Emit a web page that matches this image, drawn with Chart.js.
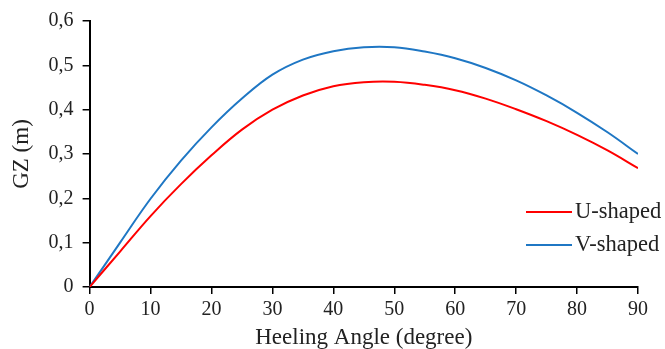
<!DOCTYPE html>
<html>
<head>
<meta charset="utf-8">
<script src="https://cdn.jsdelivr.net/npm/chart.js@4.4.0/dist/chart.umd.min.js"></script>
<style>
  html, body { margin: 0; padding: 0; background: #fff; }
  #wrap { width: 665px; height: 349px; }
</style>
</head>
<body>
<div id="wrap"><canvas id="chartContainer"></canvas></div>
<script>
// heeling angle (degree)
const heelingAngles = [0, 5, 10, 15, 20, 25, 30, 35, 40, 45, 50, 55, 60, 65, 70, 75, 80, 85, 90];
// GZ (m)
const uShaped = [0, 0.080, 0.160, 0.232, 0.297, 0.355, 0.400, 0.432, 0.453, 0.462, 0.463, 0.456, 0.444, 0.425, 0.401, 0.374, 0.343, 0.308, 0.268];
const vShaped = [0, 0.100, 0.199, 0.285, 0.360, 0.425, 0.479, 0.513, 0.532, 0.541, 0.541, 0.531, 0.516, 0.494, 0.466, 0.432, 0.393, 0.349, 0.300];
const seriesLabels = ['U-shaped', 'V-shaped'];
const seriesColors = ['#ff0000', '#1f77c4'];

const FONT = "'Liberation Serif', 'Times New Roman', serif";

function toPoints(values) {
    return values.map((y, i) => ({ x: heelingAngles[i], y: y }));
}

/**
 * Draws the legend inside the plot area, like the original figure.
 */
const insideLegend = {
    id: 'insideLegend',
    afterDraw(chart) {
        const ctx = chart.ctx;
        const area = chart.chartArea;
        const x0 = area.right - 112;
        let y = area.top + 191;
        ctx.save();
        ctx.font = '22.5px ' + FONT;
        ctx.textBaseline = 'middle';
        chart.data.datasets.forEach(ds => {
            ctx.strokeStyle = ds.borderColor;
            ctx.lineWidth = 2;
            ctx.beginPath();
            ctx.moveTo(x0, y);
            ctx.lineTo(x0 + 46, y);
            ctx.stroke();
            ctx.fillStyle = '#222';
            ctx.fillText(ds.label, x0 + 49, y);
            y += 33;
        });
        ctx.restore();
    }
};

function drawChart() {
    const ctx = document.getElementById('chartContainer');
    window.myChart = new Chart(ctx, {
        type: 'line',
        data: {
            datasets: [{
                label: seriesLabels[0],
                data: toPoints(uShaped),
                borderColor: seriesColors[0],
                borderWidth: 2,
                pointRadius: 0,
                fill: false,
                tension: 0.4
            }, {
                label: seriesLabels[1],
                data: toPoints(vShaped),
                borderColor: seriesColors[1],
                borderWidth: 2,
                pointRadius: 0,
                fill: false,
                tension: 0.4
            }]
        },
        options: {
            responsive: true,
            maintainAspectRatio: false,
            animation: false,
            layout: { padding: { left: 8, right: 27, top: 6, bottom: 0 } },
            scales: {
                x: {
                    type: 'linear',
                    min: 0,
                    max: 90,
                    ticks: { stepSize: 10, color: '#222', font: { family: FONT, size: 20 }, padding: 4 },
                    grid: { drawOnChartArea: false, color: '#000', lineWidth: 1.5, tickLength: 7 },
                    border: { color: '#000', width: 2 },
                    title: { display: true, text: 'Heeling Angle (degree)', color: '#222', font: { family: FONT, size: 23, lineHeight: 1 }, padding: { top: 0, bottom: 0 } }
                },
                y: {
                    min: 0,
                    max: 0.6,
                    ticks: {
                        stepSize: 0.05,
                        color: '#222',
                        font: { family: FONT, size: 20 },
                        padding: 9,
                        callback: v => {
                            const k = Math.round(v * 100);
                            if (k % 10 !== 0) return '';
                            return k === 0 ? '0' : (k / 100).toFixed(1).replace('.', ',');
                        }
                    },
                    grid: { drawOnChartArea: false, color: '#000', lineWidth: 1.5, tickLength: 7 },
                    border: { color: '#000', width: 2 },
                    title: { display: true, text: 'GZ (m)', color: '#222', font: { family: FONT, size: 23 }, padding: { top: 0, bottom: 4 } }
                }
            },
            plugins: {
                legend: { display: false },
                tooltip: { enabled: false }
            }
        },
        plugins: [insideLegend]
    });
}

drawChart();
</script>
</body>
</html>
